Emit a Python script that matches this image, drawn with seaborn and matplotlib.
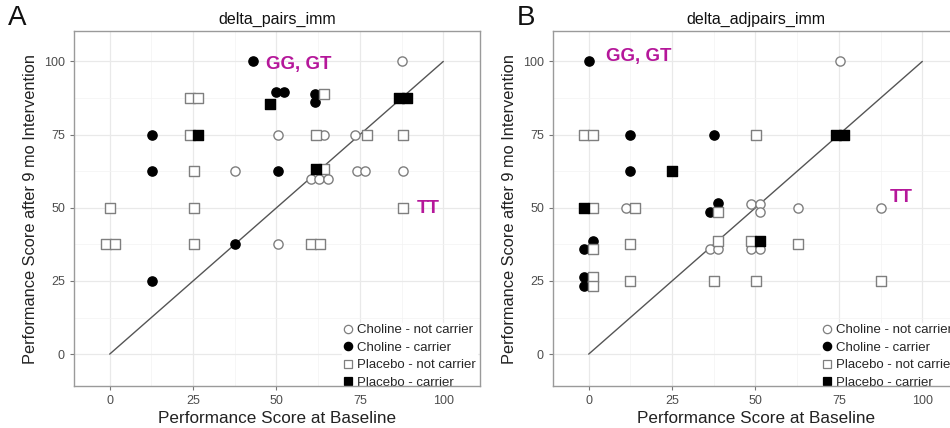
import matplotlib
matplotlib.use("Agg")
import matplotlib.pyplot as plt
from matplotlib.lines import Line2D
from matplotlib.ticker import MultipleLocator
import seaborn as sns
import pandas as pd

# ---- delta_pairs_imm ----
a_chol_nc_x = [87.5, 50.4, 64.2, 73.4, 37.7, 60.2, 62.8, 65.4, 74.0, 76.6, 87.8, 50.4]
a_chol_nc_y = [100, 75, 75, 75, 62.5, 60, 60, 60, 62.5, 62.5, 62.5, 37.5]
a_chol_c_x = [43.0, 50.0, 52.2, 61.5, 61.5, 12.6, 12.6, 50.4, 37.7, 12.6]
a_chol_c_y = [100, 89.5, 89.5, 88.8, 86.3, 75, 62.5, 62.5, 37.5, 25]
a_plac_nc_x = [24.0, 26.4, 64.2, 24.0, 61.7, 77.1, 87.8, 25.2, 64.2, 0.1, 25.2, 87.8,
               -1.2, 1.5, 25.2, 60.2, 63.0]
a_plac_nc_y = [87.5, 87.5, 88.8, 75, 75, 75, 75, 62.5, 63.1, 50, 50, 50,
               37.5, 37.5, 37.5, 37.5, 37.5]
a_plac_c_x = [48.2, 86.8, 89.2, 26.4, 61.7]
a_plac_c_y = [85.3, 87.5, 87.5, 75, 63.1]

# ---- delta_adjpairs_imm ----
b_chol_nc_x = [75.2, 11.1, 48.8, 51.3, 51.3, 62.6, 87.7, 36.3, 38.8, 48.8, 51.3]
b_chol_nc_y = [100, 50, 51.2, 51.2, 48.4, 50, 50, 36, 36, 36, 36]
b_chol_c_x = [0.0, 12.3, 37.5, 12.3, 38.8, 36.3, 1.3, -1.5, -1.5, -1.5]
b_chol_c_y = [100, 75, 75, 62.5, 51.6, 48.7, 38.8, 36, 26.3, 23.3]
b_plac_nc_x = [-1.4, 1.3, 50.1, 1.3, 13.9, 38.8, 1.3, 12.3, 38.8, 48.8, 62.6,
               1.3, 1.3, 12.3, 37.5, 50.1, 87.7]
b_plac_nc_y = [75, 75, 75, 50, 50, 48.7, 36, 37.5, 38.8, 38.8, 37.5,
               26.3, 23.3, 25, 25, 25, 25]
b_plac_c_x = [74.2, 76.6, -1.5, 25.0, 51.3]
b_plac_c_y = [75, 75, 50, 62.5, 38.8]

groups = ["Choline - not carrier", "Choline - carrier",
          "Placebo - not carrier", "Placebo - carrier"]
panel_titles = ["delta_pairs_imm", "delta_adjpairs_imm"]
panel_letters = ["A", "B"]
ticks = [0, 25, 50, 75, 100]


def build_frame(xs, ys):
    rows = []
    for g, x, y in zip(groups, xs, ys):
        rows += [{"x": xi, "y": yi, "group": g} for xi, yi in zip(x, y)]
    return pd.DataFrame(rows)


df_a = build_frame([a_chol_nc_x, a_chol_c_x, a_plac_nc_x, a_plac_c_x],
                   [a_chol_nc_y, a_chol_c_y, a_plac_nc_y, a_plac_c_y])
df_b = build_frame([b_chol_nc_x, b_chol_c_x, b_plac_nc_x, b_plac_c_x],
                   [b_chol_nc_y, b_chol_c_y, b_plac_nc_y, b_plac_c_y])

styles = {
    "Choline - not carrier": dict(marker="o", facecolor="white", edgecolor="#7f7f7f"),
    "Choline - carrier": dict(marker="o", facecolor="black", edgecolor="black"),
    "Placebo - not carrier": dict(marker="s", facecolor="white", edgecolor="#7f7f7f"),
    "Placebo - carrier": dict(marker="s", facecolor="black", edgecolor="black"),
}

sns.set_theme(style="white")
plt.rcParams["font.family"] = ["Liberation Sans", "DejaVu Sans"]

W, H = 950, 428
fig = plt.figure(figsize=(W / 100, H / 100), dpi=100)
ax_a = fig.add_axes([74 / W, 1 - 386 / H, 406 / W, 355 / H])
ax_b = fig.add_axes([553 / W, 1 - 386 / H, 406 / W, 355 / H])

magenta = "#B5179A"
annot = [((266, 64), (417, 208)), ((606, 57), (890, 197))]

for i, (ax, df) in enumerate([(ax_a, df_a), (ax_b, df_b)]):
    ax.set_facecolor("white")
    ax.set_xlim(-10.7, 111)
    ax.set_ylim(-10.9, 110.4)
    ax.xaxis.set_major_locator(MultipleLocator(25))
    ax.yaxis.set_major_locator(MultipleLocator(25))
    ax.xaxis.set_minor_locator(MultipleLocator(12.5))
    ax.yaxis.set_minor_locator(MultipleLocator(12.5))
    ax.grid(which="major", color="#e9e9e9", linewidth=0.9, zorder=0)
    ax.grid(which="minor", color="#f3f3f3", linewidth=0.5, zorder=0)
    ax.set_axisbelow(True)

    # identity line
    sns.lineplot(x=[0, 100], y=[0, 100], ax=ax, color="#555555", linewidth=1.0,
                 zorder=2, legend=False)

    for g in groups:
        sub = df[df["group"] == g]
        st = styles[g]
        sns.scatterplot(data=sub, x="x", y="y", ax=ax, marker=st["marker"],
                        color=st["facecolor"], edgecolor=st["edgecolor"],
                        linewidth=1.0, s=44, zorder=3, legend=False)

    handles = [Line2D([], [], linestyle="none", marker=styles[g]["marker"],
                      markerfacecolor=styles[g]["facecolor"],
                      markeredgecolor=styles[g]["edgecolor"],
                      markeredgewidth=0.9, markersize=6, label=g) for g in groups]
    leg = ax.legend(handles=handles, loc="lower right", bbox_to_anchor=(0.993, -0.012),
                    frameon=True, fontsize=9.5, handlelength=0.7, handletextpad=0.35,
                    labelspacing=0.4, borderpad=0.1, borderaxespad=0.0)
    leg.get_frame().set_edgecolor("white")
    leg.get_frame().set_facecolor("white")
    leg.get_frame().set_alpha(1)
    leg.set_zorder(4)

    ax.set_xticks(ticks)
    ax.set_yticks(ticks)
    ax.tick_params(axis="both", which="major", labelsize=9, labelcolor="#4d4d4d",
                   length=3, color="#777777", width=0.8, direction="out",
                   bottom=True, left=True)
    ax.tick_params(which="minor", length=0)
    for sp in ax.spines.values():
        sp.set_color("#9a9a9a")
        sp.set_linewidth(1.0)
        sp.set_zorder(6)

    ax.set_xlabel("Performance Score at Baseline", fontsize=12.3, color="#222222",
                  labelpad=3)
    ax.set_ylabel("Performance Score after 9 mo Intervention", fontsize=11.8,
                  color="#222222", labelpad=4)
    ax.set_title(panel_titles[i], fontsize=11.5, color="#111111", pad=5)

    (gx, gy), (tx, ty) = annot[i]
    fig.text(gx / W, 1 - gy / H, "GG, GT", color=magenta, fontsize=13.5,
             fontweight="bold", ha="left", va="center")
    fig.text(tx / W, 1 - ty / H, "TT", color=magenta, fontsize=13.5,
             fontweight="bold", ha="left", va="center")

fig.text(8 / W, 1 - 18 / H, "A", fontsize=20, ha="left", va="center", color="#111111")
fig.text(517 / W, 1 - 18 / H, "B", fontsize=20, ha="left", va="center", color="#111111")

fig.savefig("out.png", dpi=100, facecolor="white")
